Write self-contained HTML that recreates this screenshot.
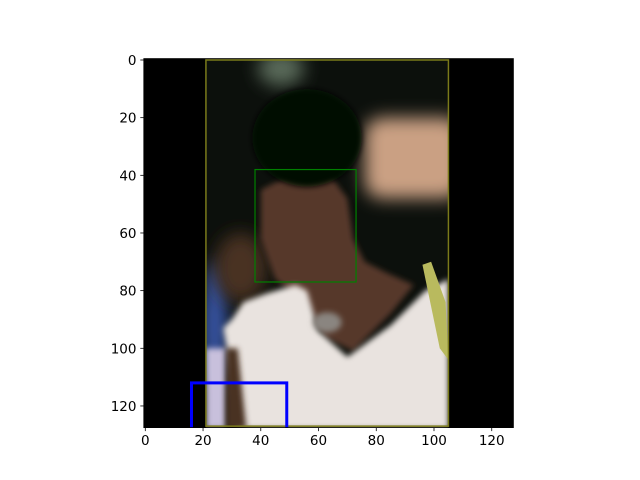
<!DOCTYPE html>
<html><head><meta charset="utf-8"><style>
html,body{margin:0;padding:0;background:#fff;}
svg{display:block;font-family:"DejaVu Sans","Liberation Sans",sans-serif;}
</style></head><body>
<svg id="chart" width="640" height="480" viewBox="0 0 640 480">
<defs>
<clipPath id="ax"><rect x="143.8" y="58.6" width="369.6" height="369"/></clipPath>
<clipPath id="photo"><rect x="21" y="-0.5" width="84" height="128"/></clipPath>
<filter id="b3" x="-50%" y="-50%" width="200%" height="200%"><feGaussianBlur stdDeviation="3"/></filter>
<filter id="b1" x="-50%" y="-50%" width="200%" height="200%"><feGaussianBlur stdDeviation="1"/></filter>
</defs>
<g clip-path="url(#ax)">
<g transform="translate(145.3,60) scale(2.887,2.883)">
<rect x="-0.5" y="-0.5" width="128" height="128" fill="#000"/>
<g clip-path="url(#photo)">
<rect x="21" y="-0.5" width="84" height="128" fill="#0c100c"/>
<ellipse cx="47" cy="3" rx="8" ry="6" fill="#5a6a5a" filter="url(#b3)"/>
<rect x="76" y="20" width="34" height="28" rx="6" fill="#caa083" filter="url(#b3)"/>
<ellipse cx="24" cy="92" rx="4" ry="22" fill="#3a5ab0" filter="url(#b3)"/>
<ellipse cx="33" cy="72" rx="9" ry="12" fill="#4a3222" filter="url(#b3)"/>
<polygon points="40,45 50,40 64,40 70,48 72,62 76,70 84,74 93,78 85,88 72,101 62,96 55,84 45,76 40,62" fill="#57392a" filter="url(#b1)"/>
<ellipse cx="56" cy="27" rx="19" ry="17" fill="#060706" filter="url(#b1)"/>
<polygon points="27,93 30,90 34,84 42,81 52,78 56,80 60,94 70,103 85,92 97,80 105,76 105,128 32,128 30,110" fill="#e9e3df" filter="url(#b1)"/>
<polygon points="21,100 28,100 28,128 21,128" fill="#c8c0dc" filter="url(#b1)"/>
<polygon points="28,100 32,100 35,128 28,128" fill="#4a3020" filter="url(#b1)"/>
<polygon points="96,71 99,70 104,84 105,104 102,100" fill="#b9ba5e"/>
<ellipse cx="63" cy="91" rx="5" ry="3.5" fill="#8a8580" filter="url(#b1)"/>
</g>
</g>
</g>
<g id="boxes"></g>
<rect x="143.8" y="58.6" width="369.6" height="369" fill="none" stroke="#000" stroke-width="0.8"/>
<g id="xticks"></g>
<g id="yticks"></g>
</svg>
<script>
const xTicks=[0,20,40,60,80,100,120];
const yTicks=[0,20,40,60,80,100,120];
const boxNames=["person-box","face-box","blue-box"];
const boxX0=[21,38,16];
const boxY0=[0,38,112];
const boxX1=[105,73,49];
const boxY1=[127,77,130];
const boxColors=["#7a7a1a","#008000","#0000ff"];
const boxWidths=[1.5,1.2,3];
const sx=v=>145.3+v*2.887, sy=v=>60+v*2.883;
const NS="http://www.w3.org/2000/svg";
const bg=document.getElementById('boxes');
for(let i=0;i<boxNames.length;i++){
  const r=document.createElementNS(NS,'rect');
  
  
  r.setAttribute('x',sx(boxX0[i]));r.setAttribute('y',sy(boxY0[i]));
  r.setAttribute('width',sx(boxX1[i])-sx(boxX0[i]));r.setAttribute('height',sy(boxY1[i])-sy(boxY0[i]));
  r.setAttribute('fill','none');r.setAttribute('stroke',boxColors[i]);r.setAttribute('stroke-width',boxWidths[i]);
  r.setAttribute('clip-path','url(#ax)');
  bg.appendChild(r);
}
const xg=document.getElementById('xticks');
xTicks.forEach(t=>{
  const l=document.createElementNS(NS,'line');
  
  
  l.setAttribute('x1',sx(t));l.setAttribute('x2',sx(t));l.setAttribute('y1',427.6);l.setAttribute('y2',431.1);l.setAttribute('stroke','#000');l.setAttribute('stroke-width',0.8);
  xg.appendChild(l);
  const tx=document.createElementNS(NS,'text');
  
  
  tx.setAttribute('x',sx(t));tx.setAttribute('y',445);tx.setAttribute('text-anchor','middle');tx.setAttribute('font-size','13.5');
  tx.textContent=t;xg.appendChild(tx);
});
const yg=document.getElementById('yticks');
yTicks.forEach(t=>{
  const l=document.createElementNS(NS,'line');
  
  
  l.setAttribute('x1',140.3);l.setAttribute('x2',143.8);l.setAttribute('y1',sy(t));l.setAttribute('y2',sy(t));l.setAttribute('stroke','#000');l.setAttribute('stroke-width',0.8);
  yg.appendChild(l);
  const tx=document.createElementNS(NS,'text');
  
  
  tx.setAttribute('x',136.5);tx.setAttribute('y',sy(t)+5);tx.setAttribute('text-anchor','end');tx.setAttribute('font-size','13.5');
  tx.textContent=t;yg.appendChild(tx);
});
</script>
</body></html>
